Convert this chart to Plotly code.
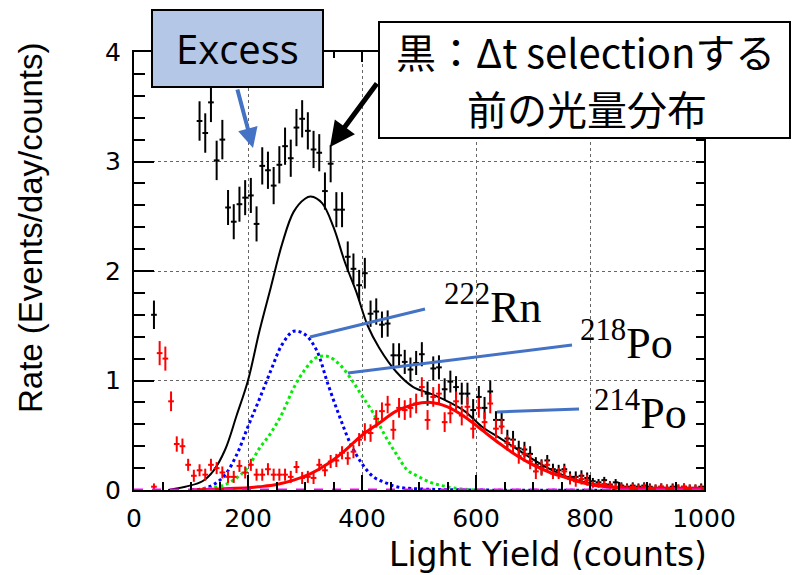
import plotly.graph_objects as go

# ---------------- data ----------------
black_x = [35, 115, 125, 135, 145, 155, 165, 175, 185, 195, 205, 215, 225, 235, 245, 255,
           265, 275, 285, 295, 305, 315, 325, 335, 345, 355, 365, 375, 385, 395, 405, 415,
           425, 435, 445, 455, 465, 475, 485, 495, 505, 515, 525, 535, 545, 555, 565, 575,
           585, 595, 605, 615, 625, 635, 645, 655, 665, 675, 685, 695, 705, 715, 725, 735,
           745, 755, 765, 775, 785, 795, 805, 815, 825, 835, 845, 855, 865, 875, 885, 895,
           905, 915, 925, 935, 945, 955, 965, 975, 985, 995]
black_y = [1.60, 3.37, 3.26, 3.54, 3.01, 3.20, 2.58, 2.45, 2.61, 2.67, 2.69, 2.43, 2.96, 2.92, 2.78, 2.97,
           3.14, 3.03, 3.31, 3.39, 3.28, 3.11, 3.08, 2.73, 2.98, 2.56, 2.56, 2.13, 2.02, 1.87, 1.98, 1.61,
           1.63, 1.51, 1.52, 1.23, 1.23, 1.17, 1.10, 1.16, 1.24, 0.88, 1.11, 1.12, 0.92, 0.99, 0.94, 0.88,
           0.88, 0.73, 0.85, 0.75, 0.90, 0.64, 0.64, 0.47, 0.46, 0.38, 0.37, 0.33, 0.23, 0.21, 0.27, 0.19,
           0.18, 0.19, 0.12, 0.12, 0.13, 0.11, 0.08, 0.07, 0.09, 0.05, 0.07, 0.04, 0.03, 0.04, 0.03, 0.04,
           0.03, 0.02, 0.03, 0.02, 0.03, 0.02, 0.03, 0.02, 0.02, 0.03]
black_err = [0.13, 0.18, 0.18, 0.18, 0.18, 0.18, 0.16, 0.16, 0.16, 0.16, 0.16, 0.16, 0.17, 0.17, 0.17, 0.17,
             0.17, 0.17, 0.17, 0.17, 0.17, 0.17, 0.17, 0.17, 0.17, 0.16, 0.16, 0.14, 0.14, 0.14, 0.14, 0.12,
             0.12, 0.12, 0.12, 0.11, 0.11, 0.11, 0.11, 0.11, 0.11, 0.11, 0.11, 0.11, 0.10, 0.10, 0.10, 0.10,
             0.10, 0.10, 0.10, 0.10, 0.10, 0.08, 0.08, 0.08, 0.08, 0.07, 0.07, 0.07, 0.07, 0.07, 0.05, 0.05,
             0.05, 0.05, 0.05, 0.05, 0.05, 0.05, 0.03, 0.03, 0.03, 0.03, 0.03, 0.03, 0.03, 0.03, 0.03, 0.03,
             0.03, 0.03, 0.03, 0.03, 0.03, 0.03, 0.03, 0.03, 0.03, 0.03]

red_x = [35, 45, 55, 65, 75, 85, 95, 105, 115, 125, 135, 145, 155, 165, 175, 185,
         195, 205, 215, 225, 235, 245, 255, 265, 275, 285, 295, 305, 315, 325, 335, 345,
         355, 365, 375, 385, 395, 405, 415, 425, 435, 445, 455, 465, 475, 485, 495, 505,
         515, 525, 535, 545, 555, 565, 575, 585, 595, 605, 615, 625, 635, 645, 655, 665,
         675, 685, 695, 705, 715, 725, 735, 745, 755, 765, 775, 785, 795, 805, 815, 825,
         835, 845, 855, 865, 875, 885, 895, 905, 915, 925, 935, 945, 955, 965, 975, 985, 995]
red_y = [0.03, 1.25, 1.20, 0.81, 0.42, 0.40, 0.23, 0.13, 0.18, 0.14, 0.23, 0.20, 0.16, 0.12, 0.12, 0.22,
         0.16, 0.23, 0.14, 0.14, 0.19, 0.14, 0.14, 0.14, 0.12, 0.21, 0.11, 0.12, 0.11, 0.23, 0.18, 0.26,
         0.27, 0.34, 0.29, 0.35, 0.46, 0.53, 0.52, 0.65, 0.72, 0.78, 0.55, 0.75, 0.73, 0.75, 0.79, 0.94,
         0.64, 0.85, 0.88, 0.62, 0.70, 0.81, 0.68, 0.76, 0.56, 0.75, 0.62, 0.79, 0.56, 0.58, 0.43, 0.40,
         0.31, 0.33, 0.26, 0.17, 0.20, 0.23, 0.15, 0.15, 0.17, 0.10, 0.08, 0.10, 0.09, 0.05, 0.05, 0.055,
         0.04, 0.03, 0.03, 0.02, 0.03, 0.02, 0.03, 0.02, 0.02, 0.03, 0.02, 0.02, 0.02, 0.03, 0.02, 0.02, 0.02]
red_err = [0.03, 0.11, 0.11, 0.09, 0.07, 0.07, 0.055, 0.055, 0.055, 0.055, 0.055, 0.055, 0.055, 0.055, 0.055, 0.055,
           0.055, 0.055, 0.055, 0.055, 0.055, 0.055, 0.055, 0.055, 0.055, 0.055, 0.055, 0.055, 0.055, 0.055, 0.055, 0.06,
           0.06, 0.06, 0.06, 0.06, 0.06, 0.08, 0.08, 0.08, 0.08, 0.08, 0.09, 0.09, 0.09, 0.09, 0.09, 0.09,
           0.09, 0.09, 0.09, 0.09, 0.09, 0.09, 0.09, 0.09, 0.09, 0.09, 0.09, 0.09, 0.09, 0.07, 0.07, 0.07,
           0.07, 0.07, 0.07, 0.07, 0.07, 0.05, 0.05, 0.05, 0.05, 0.05, 0.05, 0.05, 0.05, 0.03, 0.03, 0.03,
           0.03, 0.03, 0.03, 0.03, 0.03, 0.03, 0.03, 0.03, 0.03, 0.03, 0.03, 0.03, 0.03, 0.03, 0.03, 0.03, 0.03]

# fitted curves
total_x = [60, 90, 120, 140, 160, 180, 200, 220, 240, 260, 280, 300, 310, 330, 350, 370, 390,
           410, 430, 460, 490, 520, 550, 580, 610, 640, 670, 700, 730, 760, 800, 850, 900, 1000]
total_y = [0.0, 0.03, 0.08, 0.18, 0.37, 0.68, 1.00, 1.45, 1.85, 2.25, 2.54, 2.66, 2.68, 2.62, 2.40, 2.08, 1.81,
           1.50, 1.30, 1.08, 0.94, 0.88, 0.81, 0.72, 0.58, 0.48, 0.38, 0.28, 0.19, 0.12, 0.06, 0.025, 0.012, 0.006]

rn222_x = [100, 120, 140, 160, 180, 200, 220, 240, 260, 280, 300, 320, 340, 360, 380, 400, 420, 440, 460, 500, 1000]
rn222_y = [0.0, 0.01, 0.05, 0.14, 0.32, 0.58, 0.83, 1.09, 1.33, 1.45, 1.42, 1.28, 0.97, 0.68, 0.42, 0.24, 0.12, 0.07, 0.03, 0.01, 0.0]

po218_x = [120, 140, 160, 180, 200, 220, 240, 260, 280, 300, 320, 340, 360, 380, 400, 420, 440,
           460, 480, 500, 520, 540, 560, 600, 1000]
po218_y = [0.01, 0.02, 0.05, 0.11, 0.21, 0.38, 0.52, 0.70, 0.93, 1.10, 1.21, 1.22, 1.15, 1.02, 0.86, 0.70, 0.50,
           0.33, 0.18, 0.12, 0.07, 0.04, 0.02, 0.0, 0.0]

po214_x = [100, 150, 200, 220, 250, 280, 310, 340, 370, 400, 430, 460, 490, 520, 550, 580, 610,
           640, 670, 700, 730, 760, 800, 850, 900, 1000]
po214_y = [0.0, 0.01, 0.02, 0.03, 0.05, 0.09, 0.15, 0.24, 0.36, 0.50, 0.61, 0.72, 0.78, 0.80, 0.76, 0.67, 0.55,
           0.43, 0.32, 0.23, 0.16, 0.11, 0.05, 0.02, 0.01, 0.005]

base_x = [0, 1000]
base_y = [0, 0]

x_ticks = [0, 200, 400, 600, 800, 1000]
y_ticks = [0, 1, 2, 3, 4]

# ---------------- layout helpers ----------------
W, H = 792, 575
ML, MR, MT, MB = 134, 88, 52, 85
PW, PH = W - ML - MR, H - MT - MB


def fx(p):
    return (p - ML) / PW


def fy(p):
    return (H - MB - p) / PH


BLUE = "#4472c4"

fig = go.Figure()

fig.add_trace(go.Scatter(x=rn222_x, y=rn222_y, mode="lines", line=dict(color="#0000ff", width=3, dash="dot", shape="spline"), hoverinfo="skip"))
fig.add_trace(go.Scatter(x=po218_x, y=po218_y, mode="lines", line=dict(color="#00ee00", width=3, dash="dot", shape="spline"), hoverinfo="skip"))
fig.add_trace(go.Scatter(x=total_x, y=total_y, mode="lines", line=dict(color="black", width=2, shape="spline"), hoverinfo="skip"))
fig.add_trace(go.Scatter(x=black_x, y=black_y, mode="markers", marker=dict(size=2, color="black"),
                         error_y=dict(type="data", array=black_err, color="black", thickness=2, width=0),
                         error_x=dict(type="constant", value=5, color="black", thickness=2, width=0)))
fig.add_trace(go.Scatter(x=red_x, y=red_y, mode="markers", marker=dict(size=2, color="#ff0000"),
                         error_y=dict(type="data", array=red_err, color="#ff0000", thickness=2, width=0),
                         error_x=dict(type="constant", value=5, color="#ff0000", thickness=2, width=0)))
fig.add_trace(go.Scatter(x=po214_x, y=po214_y, mode="lines", line=dict(color="#ff0000", width=3, shape="spline"), hoverinfo="skip"))
fig.add_trace(go.Scatter(x=base_x, y=base_y, xaxis="x2", yaxis="y2", mode="lines",
                         line=dict(color="#ff00ff", width=3, dash="dash"), hoverinfo="skip"))

axis_common = dict(showline=True, linecolor="black", linewidth=2, mirror=True, ticks="inside",
                   tickcolor="black", tickwidth=1.5, zeroline=False,
                   gridcolor="#666666", griddash="dot", gridwidth=1)

fig.update_layout(
    width=W, height=H,
    margin=dict(l=ML, r=MR, t=MT, b=MB, pad=0),
    paper_bgcolor="white", plot_bgcolor="white",
    showlegend=False,
    xaxis=dict(range=[0, 1000], tickmode="array", tickvals=x_ticks, ticklen=15,
               tickfont=dict(family="DejaVu Sans", size=25, color="black"), ticklabelstandoff=5,
               minor=dict(dtick=50, tick0=0, ticklen=8, ticks="inside", tickcolor="black", tickwidth=1.5, showgrid=False),
               **axis_common),
    yaxis=dict(range=[0, 4], tickmode="array", tickvals=y_ticks, ticklen=20,
               tickfont=dict(family="DejaVu Sans", size=25, color="black"), ticklabelstandoff=6,
               minor=dict(dtick=0.2, tick0=0, ticklen=11, ticks="inside", tickcolor="black", tickwidth=1.5, showgrid=False),
               **axis_common),
    xaxis2=dict(range=[0, 1000], overlaying="x", side="top", showticklabels=False, showgrid=False,
                tickmode="array", tickvals=x_ticks, ticks="inside", ticklen=10, tickcolor="black", tickwidth=1.5,
                minor=dict(dtick=50, tick0=0, ticklen=6, ticks="inside", tickcolor="black", tickwidth=1.5, showgrid=False),
                showline=False, zeroline=False),
    yaxis2=dict(range=[0, 4], overlaying="y", side="right", showticklabels=False, showgrid=False,
                tickmode="array", tickvals=y_ticks, ticks="inside", ticklen=8, tickcolor="black", tickwidth=1.5,
                minor=dict(dtick=0.2, tick0=0, ticklen=8, ticks="inside", tickcolor="black", tickwidth=1.5, showgrid=False),
                showline=False, zeroline=False),
)

shapes = [
    dict(type="rect", xref="paper", yref="paper", x0=fx(152), x1=fx(323), y0=fy(87), y1=fy(10),
         fillcolor="#b4c7e7", line=dict(color="black", width=2), layer="above"),
    dict(type="rect", xref="paper", yref="paper", x0=fx(379), x1=fx(790), y0=fy(138), y1=fy(22),
         fillcolor="white", line=dict(color="black", width=2), layer="above"),
    dict(type="line", xref="paper", yref="paper", x0=fx(310), y0=fy(337), x1=fx(425), y1=fy(309),
         line=dict(color=BLUE, width=3), layer="above"),
    dict(type="line", xref="paper", yref="paper", x0=fx(348), y0=fy(373), x1=fx(572), y1=fy(345),
         line=dict(color=BLUE, width=3), layer="above"),
    dict(type="line", xref="paper", yref="paper", x0=fx(497), y0=fy(412), x1=fx(579), y1=fy(409),
         line=dict(color=BLUE, width=3), layer="above"),
]
fig.update_layout(shapes=shapes)

ann = []
# axis titles
ann.append(dict(text="Rate (Events/day/counts)", xref="paper", yref="paper", x=fx(30), y=fy(228),
                xanchor="center", yanchor="middle", textangle=-90, showarrow=False,
                font=dict(family="Liberation Sans", size=33, color="black")))
ann.append(dict(text="Light Yield (counts)", xref="paper", yref="paper", x=fx(709), y=fy(554),
                xanchor="right", yanchor="middle", showarrow=False,
                font=dict(family="DejaVu Sans", size=33, color="black")))
# callout texts
ann.append(dict(text="Excess", xref="paper", yref="paper", x=fx(237.5), y=fy(48.5),
                xanchor="center", yanchor="middle", showarrow=False,
                font=dict(family="Open Sans", size=40, color="black")))
ann.append(dict(text="黒：Δt selectionする", xref="paper", yref="paper", x=fx(585), y=fy(51),
                xanchor="center", yanchor="middle", showarrow=False,
                font=dict(family="Noto Sans CJK JP", size=40, color="black")))
ann.append(dict(text="前の光量分布", xref="paper", yref="paper", x=fx(587), y=fy(108),
                xanchor="center", yanchor="middle", showarrow=False,
                font=dict(family="Noto Sans CJK JP", size=40, color="black")))
# arrows
ann.append(dict(text="", xref="paper", yref="paper", x=fx(253), y=fy(148), ax=-16, ay=-60,
                showarrow=True, arrowhead=2, arrowsize=1, arrowwidth=4, arrowcolor=BLUE, standoff=0))
ann.append(dict(text="", xref="paper", yref="paper", x=fx(330), y=fy(147), ax=48, ay=-65,
                showarrow=True, arrowhead=2, arrowsize=1, arrowwidth=5, arrowcolor="black", standoff=0))
# isotope labels
iso_font = dict(family="Liberation Serif", size=44, color="black")
ann.append(dict(text="<sup>222</sup>Rn", xref="paper", yref="paper", x=fx(442), y=fy(304),
                xanchor="left", yanchor="middle", showarrow=False, font=iso_font))
ann.append(dict(text="<sup>218</sup>Po", xref="paper", yref="paper", x=fx(578), y=fy(340),
                xanchor="left", yanchor="middle", showarrow=False, font=iso_font))
ann.append(dict(text="<sup>214</sup>Po", xref="paper", yref="paper", x=fx(592), y=fy(410),
                xanchor="left", yanchor="middle", showarrow=False, font=iso_font))
fig.update_layout(annotations=ann)

fig.write_html("out.html", config={"displayModeBar": False},
               post_script="document.body.style.margin='0';")
